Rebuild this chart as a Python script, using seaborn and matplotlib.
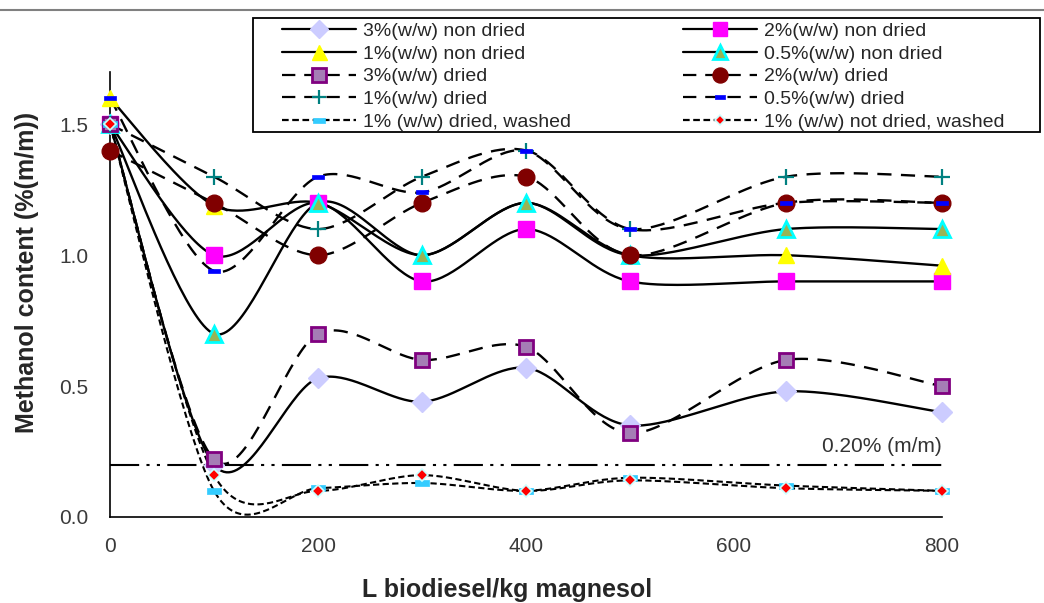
import numpy as np
import pandas as pd
import matplotlib
matplotlib.use("Agg")
import matplotlib.pyplot as plt
from matplotlib.lines import Line2D
from matplotlib.patches import Rectangle
import seaborn as sns

# ---------------- data ----------------
x_vals = [0, 100, 200, 300, 400, 500, 650, 800]
nd3 = [1.5, 0.20, 0.53, 0.44, 0.57, 0.35, 0.48, 0.40]
nd2 = [1.5, 1.00, 1.20, 0.90, 1.10, 0.90, 0.90, 0.90]
nd1 = [1.6, 1.19, 1.20, 1.00, 1.20, 1.00, 1.00, 0.96]
nd05 = [1.5, 0.70, 1.20, 1.00, 1.20, 1.00, 1.10, 1.10]
d3 = [1.5, 0.22, 0.70, 0.60, 0.65, 0.32, 0.60, 0.50]
d2 = [1.4, 1.20, 1.00, 1.20, 1.30, 1.00, 1.20, 1.20]
d1 = [1.5, 1.30, 1.10, 1.30, 1.40, 1.10, 1.30, 1.30]
d05 = [1.6, 0.94, 1.30, 1.24, 1.40, 1.10, 1.20, 1.20]
dw1 = [1.5, 0.10, 0.11, 0.13, 0.10, 0.15, 0.12, 0.10]
ndw1 = [1.5, 0.16, 0.10, 0.16, 0.10, 0.14, 0.11, 0.10]
labels = ["3%(w/w) non dried", "2%(w/w) non dried", "1%(w/w) non dried",
          "0.5%(w/w) non dried", "3%(w/w) dried", "2%(w/w) dried",
          "1%(w/w) dried", "0.5%(w/w) dried", "1% (w/w) dried, washed",
          "1% (w/w) not dried, washed"]
limit_value = 0.20
limit_label = "0.20% (m/m)"
x_ticks = [0, 200, 400, 600, 800]
y_ticks = [0.0, 0.5, 1.0, 1.5]

# ---------------- style ----------------
sns.set_style("white")
plt.rcParams['font.family'] = ['Liberation Sans', 'DejaVu Sans']

RECT = [(-1, -0.4), (1, -0.4), (1, 0.4), (-1, 0.4), (-1, -0.4)]
LONG = (0, (6, 4))
SHORT = (0, (3, 1.6))

series = [
    (nd3, dict(ls='-', marker='D', ms=10, mfc='#ccccff', mec='#ccccff', mew=1)),
    (nd2, dict(ls='-', marker='s', ms=11, mfc='#ff00ff', mec='#ff00ff', mew=1)),
    (nd1, dict(ls='-', marker='^', ms=12, mfc='#ffff00', mec='#ffff00', mew=1)),
    (nd05, dict(ls='-', marker='^', ms=11, mfc='#99b455', mec='#00ffff', mew=2)),
    (d3, dict(ls=LONG, marker='s', ms=10.5, mfc='#a57db5', mec='#800080', mew=2)),
    (d2, dict(ls=LONG, marker='o', ms=12, mfc='#800000', mec='#800000', mew=1)),
    (d1, dict(ls=LONG, marker='+', ms=11, mfc='#008080', mec='#008080', mew=1.6)),
    (d05, dict(ls=LONG, marker=RECT, ms=8, mfc='#0000ff', mec='#0000ff', mew=0.5)),
    (dw1, dict(ls=SHORT, marker=RECT, ms=10, mfc='#33ccff', mec='#33ccff', mew=0.5)),
    (ndw1, dict(ls=SHORT, marker='D', ms=6, mfc='#ff0000', mec='#ccffff', mew=1.2)),
]


def smooth(xs, ys, n=40, k=0.15):
    P = np.column_stack([xs, ys]).astype(float)
    Pm = np.vstack([P[0], P, P[-1]])
    out = []
    t = np.linspace(0, 1, n)[:, None]
    for i in range(len(P) - 1):
        p0, p1 = P[i], P[i + 1]
        c1 = p0 + (Pm[i + 2] - Pm[i]) * k
        c2 = p1 - (Pm[i + 3] - Pm[i + 1]) * k
        seg = ((1 - t) ** 3) * p0 + 3 * ((1 - t) ** 2) * t * c1 + 3 * (1 - t) * t ** 2 * c2 + t ** 3 * p1
        out.append(seg if i == 0 else seg[1:])
    return np.vstack(out)


W, H = 1044, 603
fig = plt.figure(figsize=(W / 100, H / 100), dpi=100)
ax = fig.add_axes([110 / W, 1 - 517 / H, (942 - 110) / W, (517 - 72) / H])

# smoothed lines
for vals, st in series:
    c = smooth(x_vals, vals)
    df = pd.DataFrame({"x": c[:, 0], "y": c[:, 1]})
    lw = 1.5 if st['ls'] is SHORT else 1.7
    sns.lineplot(data=df, x="x", y="y", sort=False, estimator=None, ax=ax,
                 color='black', linewidth=lw, zorder=2)
    ax.lines[-1].set_linestyle(st['ls'])

# limit line
ax.axhline(limit_value, color='black', lw=1.5, zorder=1,
           linestyle=(0, (14, 3.5, 1.5, 3.5, 1.5, 3.5)))
ax.text(800, 0.27, limit_label, ha='right', va='center', fontsize=15,
        color='#333333')

# markers
for vals, st in series:
    ax.plot(x_vals, vals, linestyle='none', marker=st['marker'], ms=st['ms'],
            mfc=st['mfc'], mec=st['mec'], mew=st['mew'], zorder=4, clip_on=False)

ax.set_xlim(0, 800)
ax.set_ylim(0, 1.7)
ax.set_xticks(x_ticks)
ax.set_yticks(y_ticks)
ax.set_yticklabels([f"{v:.1f}" for v in y_ticks])
for s in ['top', 'right']:
    ax.spines[s].set_visible(False)
for s in ['left', 'bottom']:
    ax.spines[s].set_color('black')
    ax.spines[s].set_linewidth(1.2)
ax.tick_params(axis='both', direction='out', length=5.5, width=1.2,
               color='black', labelsize=15, labelcolor='#3a3a3a')
ax.tick_params(axis='x', pad=9)
ax.tick_params(axis='y', pad=10)
ax.set_xlabel("")
ax.set_ylabel("")

fig.text(507 / W, 1 - 590 / H, "L biodiesel/kg magnesol", ha='center', va='center',
         fontsize=18, fontweight='bold')
fig.text(27 / W, 1 - 272 / H, "Methanol content (%(m/m))", ha='center', va='center',
         rotation=90, fontsize=18, fontweight='bold')

# top frame line
fig.add_artist(Line2D([0, 1], [1 - 9.5 / H, 1 - 9.5 / H], transform=fig.transFigure,
                      color='#808080', lw=1.5))

# legend frame
fig.add_artist(Rectangle((253 / W, 1 - 132 / H), (1040 - 253) / W, (132 - 18) / H,
                         transform=fig.transFigure, facecolor='white',
                         edgecolor='black', lw=1.3, zorder=5))

# legend
handles = []
for vals, st in series:
    handles.append(Line2D([], [], color='black', lw=1.6, linestyle=st['ls'],
                          marker=st['marker'], ms=st['ms'] * 0.9, mfc=st['mfc'],
                          mec=st['mec'], mew=st['mew']))
order = [0, 2, 4, 6, 8, 1, 3, 5, 7, 9]
leg = fig.legend([handles[i] for i in order], [labels[i] for i in order], ncol=2,
                 loc='upper left', bbox_to_anchor=(282 / W, 1 - 22.5 / H),
                 fontsize=14, handlelength=3.8, handletextpad=0.36,
                 labelspacing=0.26, borderpad=0, borderaxespad=0, frameon=False,
                 columnspacing=5.75)
leg.set_zorder(6)

fig.savefig("out.png", dpi=100, facecolor='white')
